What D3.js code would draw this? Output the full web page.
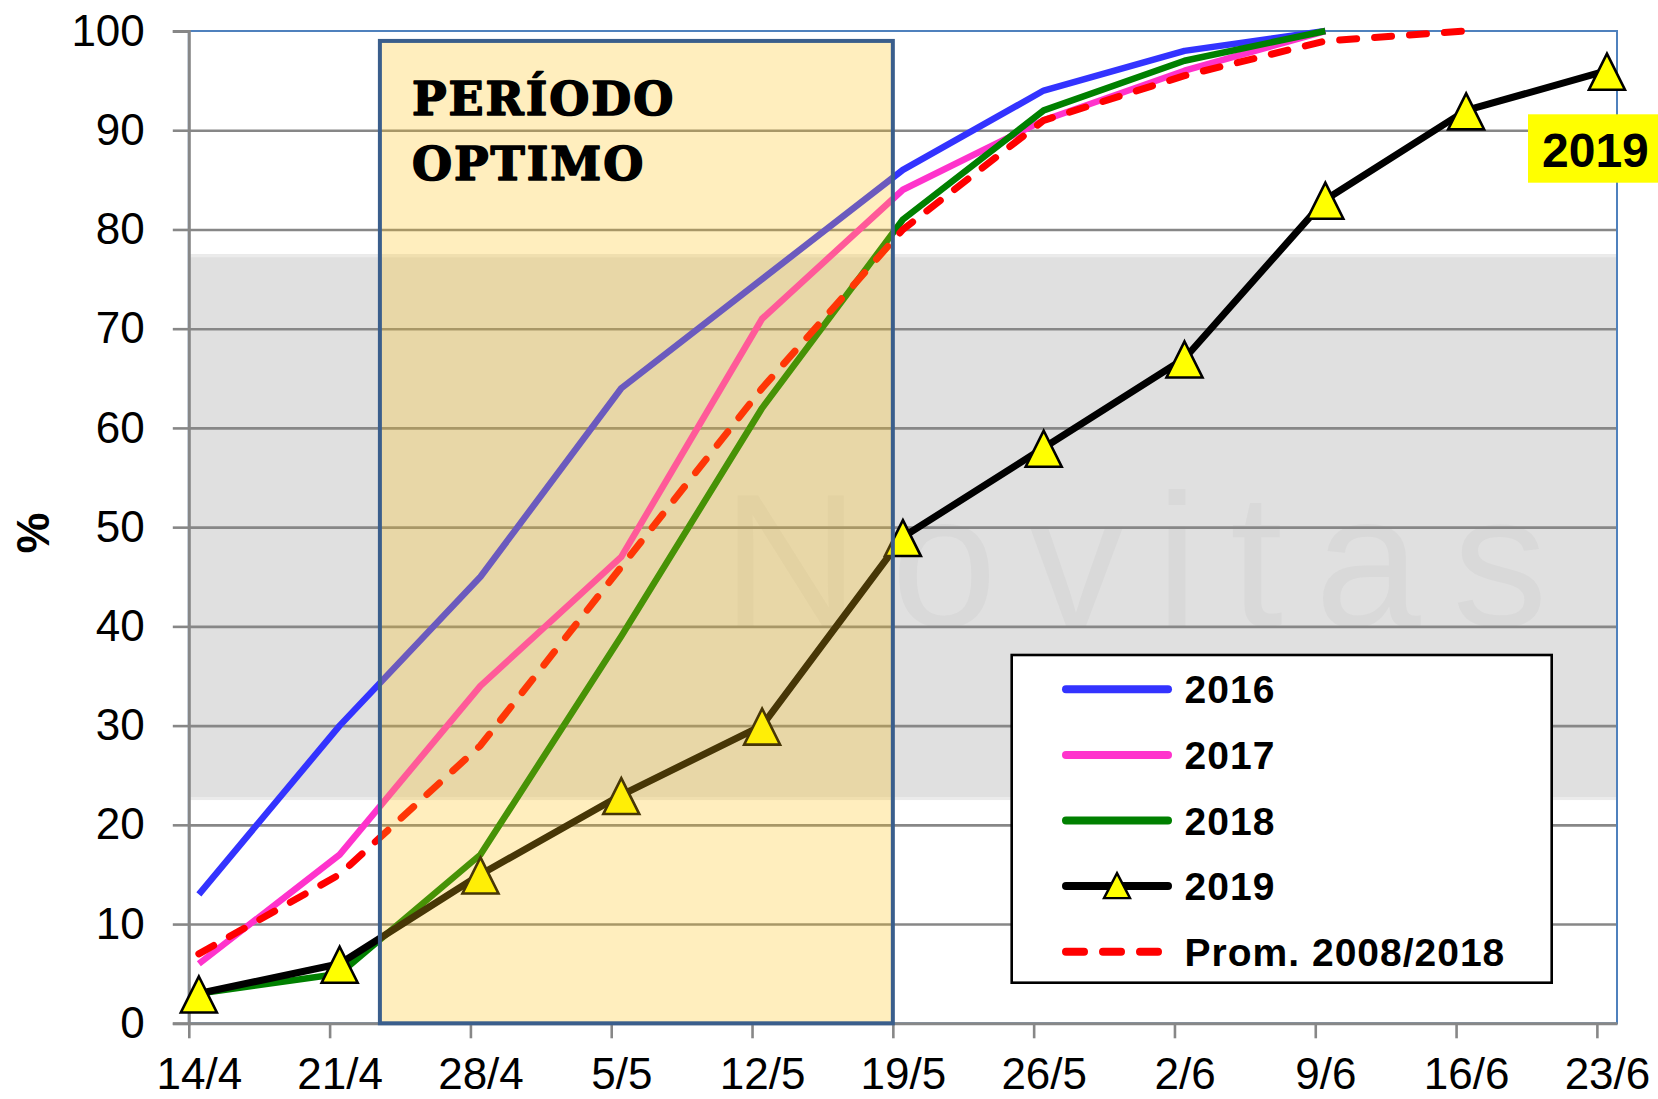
<!DOCTYPE html>
<html>
<head>
<meta charset="utf-8">
<script src="https://cdn.jsdelivr.net/npm/d3@7"></script>
<style>
  html, body { margin: 0; padding: 0; background: #ffffff; }
  svg { display: block; }
</style>
</head>
<body>
<svg id="chart" width="1658" height="1099"></svg>
<script>
// ---------- data ----------
const weekLabels = ["14/4","21/4","28/4","5/5","12/5","19/5","26/5","2/6","9/6","16/6","23/6"];
const s2016 = [13, 30, 45, 64, 75, 86, 94, 98, 100];
const s2017 = [6, 17, 34, 47, 71, 84, 91, 96, 100];
const s2018 = [3, 5, 17, 39, 62, 81, 92, 97, 100];
const s2019 = [3, 6, 15, 23, 30, 49, 58, 67, 83, 92, 96];
const sProm = [7, 15, 28, 46, 64, 80, 91, 95.5, 99, 100];
const seriesNames = ["2016", "2017", "2018", "2019", "Prom. 2008/2018"];
const yTicks = [0,10,20,30,40,50,60,70,80,90,100];
// annotation: optimal period (days from 14/4), gray band (%)
const periodo = { start: 9.5, end: 35, top: 99 };
const band = { low: 22.5, high: 77.5 };
const periodoText = ["PERÍODO", "OPTIMO"];

// ---------- layout ----------
const svg = d3.select("#chart");
const L = 188.8, R = 1617, T = 31, B = 1023.3;
const daysSpan = 71;
const x = d3.scaleLinear().domain([0, daysSpan]).range([L, R]);
const y = d3.scaleLinear().domain([0, 100]).range([B, T]);
const px = i => x(i * 7 + 0.5);   // points sit in middle of the day slot

const colors = { "2016": "#3333ff", "2017": "#ff33cc", "2018": "#008000", "2019": "#000000", "Prom. 2008/2018": "#ff0000" };
const FONT = "'Liberation Sans', Arial, sans-serif";

// gray band (watermark background)
svg.append("rect").attr("x", L).attr("y", y(band.high)).attr("width", R - L)
  .attr("height", y(band.low) - y(band.high)).attr("fill", "#e0e0e0");
svg.append("rect").attr("x", L).attr("y", y(band.high)).attr("width", R - L)
  .attr("height", 3).attr("fill", "#ebebeb");
svg.append("rect").attr("x", L).attr("y", y(band.low) - 3).attr("width", R - L)
  .attr("height", 3).attr("fill", "#ebebeb");
svg.append("text").attr("x", 722).attr("y", 626)
  .attr("font-family", FONT).attr("font-size", 190).attr("letter-spacing", 32)
  .attr("fill", "#d9d9d9").text("Novitas");

// gridlines
svg.append("g").attr("transform", `translate(${L},0)`)
  .call(d3.axisLeft(y).tickValues(yTicks.filter(v => v > 0 && v < 100)).tickSize(-(R - L)).tickFormat(""))
  .call(g => g.select(".domain").remove())
  .call(g => g.selectAll("line").attr("stroke", "#878787").attr("stroke-width", 2.6));

// plot border (top / right)
svg.append("rect").attr("x", L).attr("y", T).attr("width", R - L).attr("height", B - T)
  .attr("fill", "none").attr("stroke", "#4f81bd").attr("stroke-width", 2);

// axes
const yAxis = svg.append("g").attr("transform", `translate(${L},0)`)
  .call(d3.axisLeft(y).tickValues(yTicks).tickSize(16).tickPadding(28).tickFormat(d3.format("d")));
yAxis.select(".domain").attr("stroke", "#878787").attr("stroke-width", 3);
yAxis.selectAll("line").attr("stroke", "#878787").attr("stroke-width", 2.6);
yAxis.selectAll("text").attr("font-family", FONT).attr("font-size", 44).attr("fill", "#000");

const xAxis = svg.append("g").attr("transform", `translate(0,${B})`)
  .call(d3.axisBottom(x).tickValues(weekLabels.map((d, i) => i * 7)).tickSize(15).tickPadding(19.5)
    .tickFormat((d, i) => weekLabels[i]).tickSizeOuter(0));
xAxis.select(".domain").attr("stroke", "#878787").attr("stroke-width", 3);
xAxis.selectAll("line").attr("stroke", "#878787").attr("stroke-width", 2.6);
xAxis.selectAll("text").attr("font-family", FONT).attr("font-size", 44).attr("fill", "#000")
  .attr("x", x(0.5) - x(0));

// y title
svg.append("text").attr("transform", "translate(49,533) rotate(-90)")
  .attr("text-anchor", "middle").attr("font-family", FONT).attr("font-weight", "bold")
  .attr("font-size", 46).text("%");

// lines
const line = d3.line().x((d, i) => px(i)).y(d => y(d));
const lineG = svg.append("g").attr("fill", "none").attr("stroke-linejoin", "round");
lineG.append("path").datum(s2016).attr("d", line).attr("stroke", colors["2016"]).attr("stroke-width", 6.5);
lineG.append("path").datum(s2017).attr("d", line).attr("stroke", colors["2017"]).attr("stroke-width", 6.5);
lineG.append("path").datum(s2018).attr("d", line).attr("stroke", colors["2018"]).attr("stroke-width", 6.5);
lineG.append("path").datum(s2019).attr("d", line).attr("stroke", colors["2019"]).attr("stroke-width", 7);
lineG.append("path").datum(sProm).attr("d", line).attr("stroke", colors["Prom. 2008/2018"])
  .attr("stroke-width", 7).attr("stroke-dasharray", "17,18").attr("stroke-linecap", "round");

// triangle markers
const tri = (hw, up, down) => `M0,${-up}L${hw},${down}L${-hw},${down}Z`;
svg.append("g").selectAll("path").data(s2019).join("path")
  .attr("transform", (d, i) => `translate(${px(i)},${y(d)})`)
  .attr("d", tri(18, 17, 19))
  .attr("fill", "#ffff00").attr("stroke", "#000").attr("stroke-width", 2.6)
  .attr("stroke-linejoin", "miter").attr("stroke-miterlimit", 10);

// optimal period box (semi-transparent overlay)
svg.append("rect").attr("x", x(periodo.start)).attr("y", y(periodo.top))
  .attr("width", x(periodo.end) - x(periodo.start)).attr("height", y(0) - y(periodo.top))
  .attr("fill", "#ffc217").attr("fill-opacity", 0.28);
svg.append("rect").attr("x", x(periodo.start)).attr("y", y(periodo.top))
  .attr("width", x(periodo.end) - x(periodo.start)).attr("height", y(0) - y(periodo.top))
  .attr("fill", "none").attr("stroke", "#3a5e8c").attr("stroke-width", 4);
svg.append("g").selectAll("text").data(periodoText).join("text")
  .attr("x", x(periodo.start) + 32).attr("y", (d, i) => 115 + i * 65)
  .attr("font-family", "'DejaVu Serif', serif").attr("font-weight", "bold")
  .attr("font-size", 46).attr("letter-spacing", 2).attr("fill", "#000")
  .attr("stroke", "#000").attr("stroke-width", 1.6).attr("stroke-linejoin", "round").text(d => d);

// 2019 label
svg.append("rect").attr("x", 1528).attr("y", 114.3).attr("width", 130).attr("height", 68.4).attr("fill", "#ffff00");
svg.append("text").attr("x", 1542).attr("y", 166.7).attr("font-family", FONT).attr("font-weight", "bold")
  .attr("font-size", 48).attr("fill", "#000").text("2019");

// legend
const lg = svg.append("g");
lg.append("rect").attr("x", 1011.7).attr("y", 655).attr("width", 540).attr("height", 327.7)
  .attr("fill", "#fff").attr("stroke", "#000").attr("stroke-width", 2.6);
const rowY = i => 689.3 + i * 65.6;
seriesNames.forEach((name, i) => {
  const ln = lg.append("line").attr("x1", 1066).attr("x2", 1168).attr("y1", rowY(i)).attr("y2", rowY(i))
    .attr("stroke", colors[name]).attr("stroke-width", 8).attr("stroke-linecap", "round");
  if (name === "Prom. 2008/2018") ln.attr("x2", 1160).attr("stroke-dasharray", "18,19");
  if (name === "2019") {
    lg.append("path").attr("transform", `translate(1117,${rowY(i)})`).attr("d", tri(13, 13, 12))
      .attr("fill", "#ffff00").attr("stroke", "#000").attr("stroke-width", 2.4);
  }
  lg.append("text").attr("x", 1184.6).attr("y", rowY(i) + 14).attr("font-family", FONT)
    .attr("font-weight", "bold").attr("font-size", 39).attr("letter-spacing", 1).attr("fill", "#000").text(name);
});
</script>
</body>
</html>
